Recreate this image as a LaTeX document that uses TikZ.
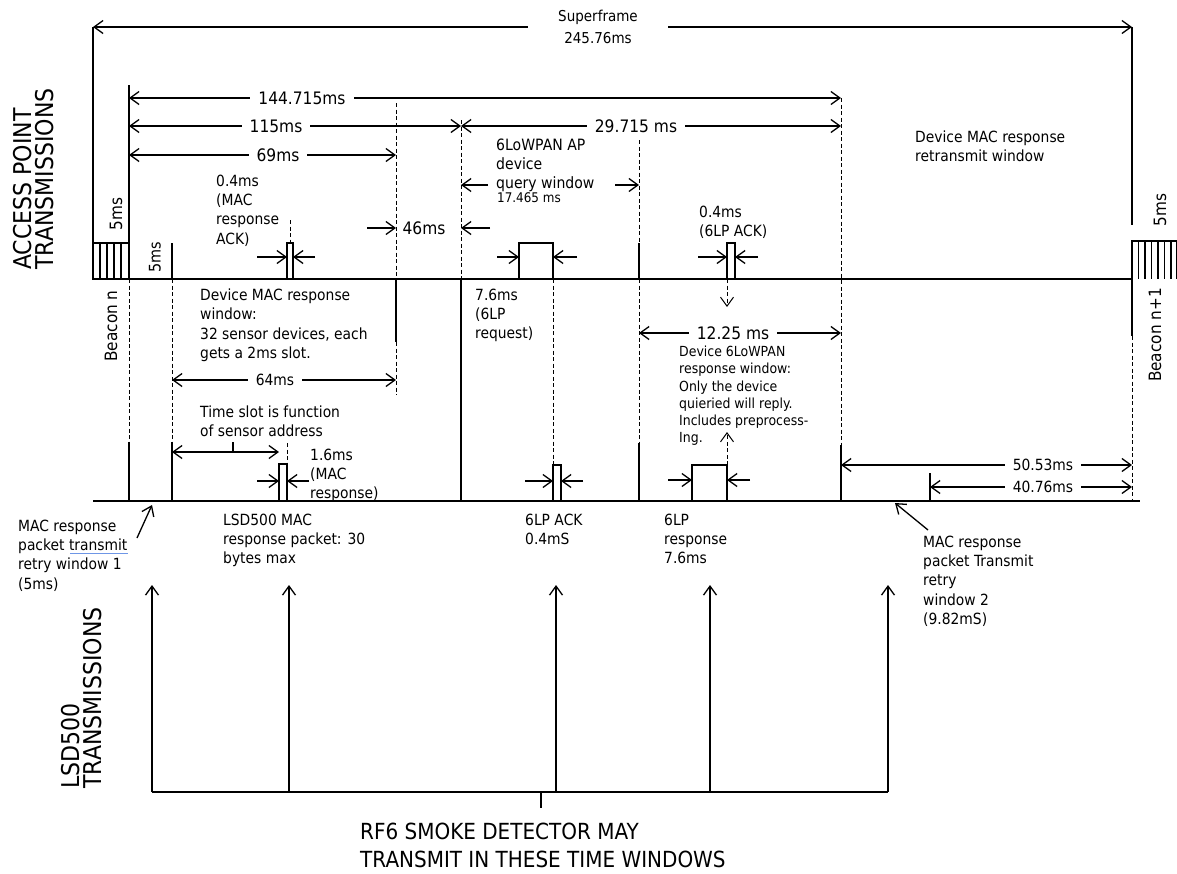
\documentclass[tikz,border=0pt]{standalone}
\usepackage{fontspec}
\setmainfont{DejaVu Sans}[FakeStretch=0.9]
\usetikzlibrary{arrows.meta}
\definecolor{spell}{RGB}{110,150,230}
\begin{document}
\begin{tikzpicture}[x=1pt,y=-1pt,
  ln/.style={line width=1.3pt},
  thinln/.style={line width=1.1pt},
  dsh/.style={line width=1pt, dash pattern=on 4pt off 2.5pt},
  tip/.style={-{Straight Barb[length=9pt,width=13pt]}},
  arr/.style={ln, tip},
  darr/.style={ln, {Straight Barb[length=9pt,width=13pt]}-{Straight Barb[length=9pt,width=13pt]}},
  dimlbl/.style={fill=white, inner xsep=8pt, inner ysep=1pt, font=\fontsize{17.2}{20}\selectfont},
  txt/.style={inner sep=0pt, anchor=north west, align=left, font=\fontsize{15.4}{19.3}\selectfont},
  smtxt/.style={inner sep=0pt, anchor=north west, align=left, font=\fontsize{13.9}{17.2}\selectfont},
  rot/.style={rotate=90, inner sep=0pt, font=\fontsize{17}{20}\selectfont},
  big/.style={inner sep=0pt, align=left, font=\fontsize{24.5}{22}\selectfont}
]
\useasboundingbox (0,0) rectangle (1177,873);
\fill[white] (0,0) rectangle (1177,873);

% ---------- timelines
\coordinate (apL) at (93,279); \coordinate (apR) at (1132,279);
\coordinate (lsL) at (93,501); \coordinate (lsR) at (1140,501);
\draw[ln] (apL) -- (apR);
\draw[ln] (lsL) -- (lsR);

% ---------- superframe
\coordinate (sfL) at (93,27); \coordinate (sfR) at (1132,27);
\draw[ln] (93,243) -- (sfL);
\draw[ln] (sfR) -- (1132,225);
\draw[darr] (sfL) -- (sfR);
\node[fill=white, inner xsep=30pt, inner ysep=0pt, align=center, font=\fontsize{15}{22}\selectfont] (sf) at (598,27) {Superframe\\245.76ms};

% ---------- beacon n hatch
\draw[ln] (93,243) rectangle (129,279);
\foreach \x in {100,107,114,121} \draw[thinln] (\x,243) -- (\x,279);
% ---------- beacon n+1 hatch
\draw[ln] (1177,241) -- (1132,241) -- (1132,336);
\draw[dsh] (1132,336) -- (1132,501);
\foreach \x in {1138.5,1145,1151.5,1158,1164.5,1171,1176.5} \draw[thinln] (\x,241) -- (\x,279);

% ---------- dimension arrows (before verticals)
\draw[darr] (129,98) -- (841,98);
\node[dimlbl] (d144) at (302,98) {144.715ms};
\draw[darr] (129,126) -- (461,126);
\node[dimlbl] (d115) at (276,126) {115ms};
\draw[darr] (461,126) -- (841,126);
\node[dimlbl] (d29) at (636,126) {29.715 ms};
\draw[darr] (129,155) -- (396,155);
\node[dimlbl] (d69) at (278,155) {69ms};
\draw[darr] (172,380) -- (396,380);
\node[dimlbl, font=\fontsize{15.4}{18}\selectfont] (d64) at (275,380) {64ms};
\draw[darr] (639,333) -- (841,333);
\node[dimlbl] (d12) at (733,333) {12.25 ms};
\draw[darr] (841,465) -- (1132,465);
\node[dimlbl, font=\fontsize{15.4}{18}\selectfont] (d50) at (1043,465) {50.53ms};
\draw[darr] (930,487) -- (1132,487);
\node[dimlbl, font=\fontsize{15.4}{18}\selectfont] (d40) at (1043,487) {40.76ms};

% 46ms
\draw[arr] (367,228) -- (396,228);
\node[inner sep=0pt, font=\fontsize{17.2}{20}\selectfont] (d46) at (424,228) {46ms};
\draw[arr] (490,228) -- (461,228);

% query window arrows
\draw[arr] (488,185) -- (461,185);
\draw[arr] (615,185) -- (639,185);

% ---------- verticals
\draw[ln] (129,85) -- (129,279);
\draw[dsh] (129,279) -- (129,442);
\draw[ln] (129,442) -- (129,501);

\draw[ln] (172,243) -- (172,279);
\draw[dsh] (172,279) -- (172,442);
\draw[ln] (172,442) -- (172,501);

\draw[dsh] (396,103) -- (396,279);
\draw[ln] (396,279) -- (396,342);
\draw[dsh] (396,342) -- (396,395);

\draw[dsh] (461,120) -- (461,279);
\draw[ln] (461,279) -- (461,501);

\draw[dsh] (639,140) -- (639,243);
\draw[ln] (639,243) -- (639,279);
\draw[dsh] (639,279) -- (639,443);
\draw[ln] (639,443) -- (639,501);

\draw[dsh] (841,98) -- (841,445);
\draw[ln] (841,445) -- (841,501);

\draw[ln] (930,473) -- (930,501);

% ---------- MAC response ACK box (top)
\draw[ln] (287,279) -- (287,243) -- (293,243) -- (293,279);
\draw[dsh] (290,220) -- (290,243);
\draw[arr] (257,257) -- (287,257);
\draw[arr] (315,257) -- (293,257);

% ---------- 6LP request box (top)
\draw[ln] (519,279) -- (519,243) -- (553,243) -- (553,279);
\draw[arr] (497,257) -- (519,257);
\draw[arr] (577,257) -- (553,257);
\draw[dsh] (553,279) -- (553,465);

% ---------- 6LP ACK box (top)
\draw[ln] (727,279) -- (727,243) -- (735,243) -- (735,279);
\draw[arr] (698,257) -- (727,257);
\draw[arr] (758,257) -- (735,257);
\draw[dsh, tip] (727,279) -- (727,307);

% ---------- MAC response box (bottom)
\draw[ln] (279,501) -- (279,464) -- (287,464) -- (287,501);
\draw[dsh] (287,443) -- (287,464);
\draw[darr] (172,452) -- (279,452);
\draw[ln] (233,452) -- (233,442);
\draw[arr] (257,481) -- (279,481);
\draw[arr] (309,481) -- (287,481);

% ---------- 6LP ACK box (bottom)
\draw[ln] (553,501) -- (553,465) -- (561,465) -- (561,501);
\draw[arr] (525,481) -- (553,481);
\draw[arr] (583,481) -- (561,481);

% ---------- 6LP response box (bottom)
\draw[ln] (692,501) -- (692,465) -- (727,465) -- (727,501);
\draw[arr] (668,480) -- (692,480);
\draw[arr] (750,480) -- (727,480);
\draw[dsh, tip] (727,465) -- (727,432);

% ---------- callout arrows
\draw[arr] (137,538) -- (152,505);
\draw[arr] (928,530) -- (895,503);

% ---------- texts
\node[txt] (macack) at (216,174.5) {0.4ms\\(MAC\\response\\ACK)};
\node[txt] (devmac) at (200,288.5) {Device MAC response\\window:\\32 sensor devices, each\\gets a 2ms slot.};
\node[txt] (tslot) at (200,405.5) {Time slot is function\\of sensor address};
\node[txt] (m16) at (310,448.5) {1.6ms\\(MAC\\response)};
\node[txt] (lsdmac) at (223,513.5) {LSD500 MAC\\response packet: 30\\bytes max};
\node[txt] (retry1) at (18,519.5) {MAC response\\packet transmit\\retry window 1\\(5ms)};
\draw[spell, line width=1.8pt] (70,553.5) -- (128,553.5);
\node[txt] (ack6b) at (525,513.5) {6LP ACK\\0.4mS};
\node[txt] (resp6) at (664,513.5) {6LP\\response\\7.6ms};
\node[txt] (retry2) at (923,535.5) {MAC response\\packet Transmit\\retry\\window 2\\(9.82mS)};
\node[txt] (req6) at (475,288.5) {7.6ms\\(6LP\\request)};
\node[txt] (ack6t) at (699,205.5) {0.4ms\\(6LP ACK)};
\node[txt, font=\fontsize{15.6}{19}\selectfont] (query) at (496,138.5) {6LoWPAN AP\\device\\query window};
\node[inner sep=0pt, anchor=west, font=\fontsize{13.3}{15}\selectfont] (q17) at (497,198) {17.465 ms};
\node[txt] (retx) at (915,130.5) {Device MAC response\\retransmit window};
\node[smtxt] (dev6) at (679,346) {Device 6LoWPAN\\response window:\\Only the device\\quieried will reply.\\Includes preprocess-\\Ing.};

% rotated labels
\node[rot] (b5a) at (116,214) {5ms};
\node[rot, font=\fontsize{16}{18}\selectfont] (b5b) at (155,257) {5ms};
\node[rot] (bn) at (111,326) {Beacon n};
\node[rot] (b5c) at (1160,210) {5ms};
\node[rot] (bn1) at (1155,335) {Beacon n+1};

\node[big, rotate=90, anchor=north west] (apt) at (13,270) {ACCESS POINT\\TRANSMISSIONS};
\node[big, rotate=90, anchor=north west] (lst) at (61,789) {LSD500\\TRANSMISSIONS};

% ---------- bottom bracket
\draw[ln] (152,792) -- (888,792);
\foreach \x/\n in {152/a,289/b,556/c,710/d,888/e} \draw[arr] (\x,792) -- (\x,585);
\draw[ln] (541,792) -- (541,808);
\node[inner sep=0pt, anchor=north west, align=left, font=\fontsize{22.2}{28}\selectfont] (rf6) at (360,823) {RF6 SMOKE DETECTOR MAY\\TRANSMIT IN THESE TIME WINDOWS};
\end{tikzpicture}
\end{document}
